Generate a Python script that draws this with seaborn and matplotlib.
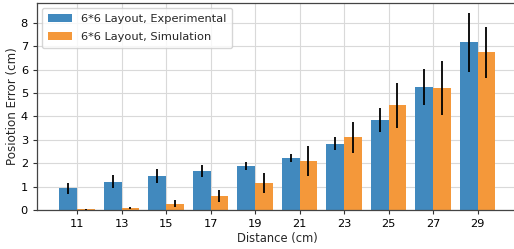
import pandas as pd
import matplotlib
matplotlib.use('Agg')
import matplotlib.pyplot as plt
import seaborn as sns
import numpy as np

# Data
distance = [11, 13, 15, 17, 19, 21, 23, 25, 27, 29]
exp_mean = [0.92, 1.21, 1.47, 1.67, 1.88, 2.22, 2.83, 3.85, 5.24, 7.17]
exp_err = [0.25, 0.27, 0.30, 0.26, 0.17, 0.16, 0.27, 0.50, 0.77, 1.27]
sim_mean = [0.03, 0.09, 0.27, 0.59, 1.15, 2.11, 3.11, 4.47, 5.20, 6.74]
sim_err = [0.02, 0.04, 0.15, 0.26, 0.43, 0.64, 0.67, 0.95, 1.16, 1.10]
labels = ['6*6 Layout, Experimental', '6*6 Layout, Simulation']

df = pd.DataFrame({
    'distance': distance * 2,
    'error': exp_mean + sim_mean,
    'layout': [labels[0]] * len(distance) + [labels[1]] * len(distance),
})

sns.set_style('white')
plt.rcParams['font.family'] = ['DejaVu Sans']
plt.rcParams['font.size'] = 8

fig = plt.figure(figsize=(5.14, 2.49), dpi=100)
ax = fig.add_axes([0.072, 0.157, 0.935, 0.831])

sns.barplot(data=df, x='distance', y='error', hue='layout', native_scale=True,
            palette=['#4189be', '#f4983a'], saturation=1, errorbar=None,
            linewidth=0, ax=ax, zorder=2)

# error bars on top of each bar
x = np.array(distance)
ax.errorbar(x - 0.4, exp_mean, yerr=exp_err, fmt='none', ecolor='black',
            elinewidth=1.3, capsize=0, zorder=3)
ax.errorbar(x + 0.4, sim_mean, yerr=sim_err, fmt='none', ecolor='black',
            elinewidth=1.3, capsize=0, zorder=3)

ax.set_xlim(9.2, 30.8)
ax.set_ylim(0, 8.85)
ax.set_xticks(distance)
ax.set_yticks(range(0, 9))
ax.grid(True, color='#d9d9d9', linewidth=0.8, zorder=0)
ax.set_axisbelow(True)
ax.tick_params(axis='both', which='both', direction='out', length=3, width=0.8,
               colors='#333333', labelcolor='black', labelsize=8.2,
               bottom=True, left=True)
for s in ax.spines.values():
    s.set_color('#444444')
    s.set_linewidth(0.9)

ax.set_xlabel('Distance (cm)', fontsize=8.3, labelpad=2)
ax.set_ylabel('Posiotion Error (cm)', fontsize=8.6, labelpad=1.5)

handles, lbls = ax.get_legend_handles_labels()
ax.legend(handles, lbls, loc='upper left', fontsize=8.2, frameon=True,
          framealpha=0.8, edgecolor='#cccccc', borderaxespad=0.45,
          labelspacing=0.75, handlelength=2.1, borderpad=0.5)

fig.savefig('out.png', dpi=100)
